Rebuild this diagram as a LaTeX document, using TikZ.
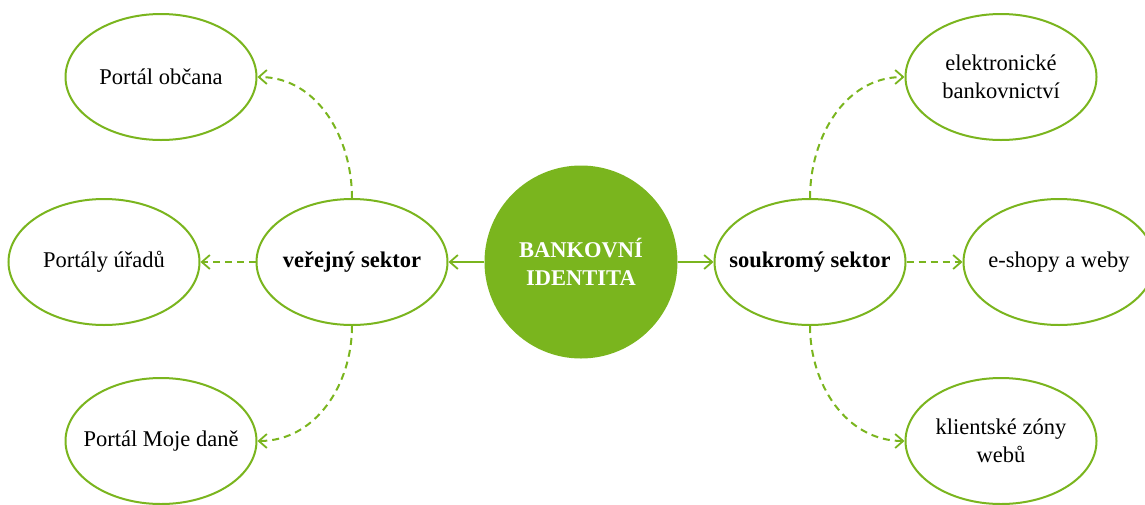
\documentclass[tikz,border=0pt]{standalone}
\usepackage{fontspec}
\setmainfont{Liberation Serif}
\usetikzlibrary{shapes.geometric,arrows.meta}
\definecolor{lime}{HTML}{7AB51E}
\tikzset{
  bubble/.style={ellipse, draw=lime, line width=2pt, fill=white, minimum width=191pt, minimum height=126pt, inner xsep=-40pt, inner ysep=0pt, align=center, font=\fontsize{22.5}{28}\selectfont},
  hub/.style={circle, fill=lime, minimum size=193pt, inner sep=0pt, align=center, text=white, font=\fontsize{22.5}{28}\selectfont\bfseries},
  solidlink/.style={draw=lime, line width=2pt, -{Straight Barb[length=8pt,width=14pt,line width=1.8pt]}},
  dashlink/.style={draw=lime, line width=2pt, dash pattern=on 7pt off 5pt, -{Straight Barb[length=8pt,width=14pt,line width=1.8pt]}}
}
\begin{document}
\begin{tikzpicture}[x=1pt,y=-1pt]
\useasboundingbox (0,0) rectangle (1145,504);
\node[hub] (c) at (581,262) {BANKOVNÍ\\IDENTITA};
\node[bubble] (v) at (352,262) {\textbf{veřejný sektor}};
\node[bubble] (s) at (810,262) {\textbf{soukromý sektor}};
\node[bubble] (po) at (161,77) {Portál občana};
\node[bubble] (pu) at (104,262) {Portály úřadů};
\node[bubble] (pm) at (161,441) {Portál Moje daně};
\node[bubble] (eb) at (1001,77) {elektronické\\bankovnictví};
\node[bubble] (es) at (1059,262) {e-shopy a weby};
\node[bubble] (kz) at (1001,441) {klientské zóny\\webů};
\draw[solidlink] (c) -- (v);
\draw[solidlink] (c) -- (s);
\draw[dashlink] (v.north) to[out=90,in=0] (po.east);
\draw[dashlink] (v.west) -- (pu.east);
\draw[dashlink] (v.south) to[out=-90,in=0] (pm.east);
\draw[dashlink] (s.north) to[out=90,in=180] (eb.west);
\draw[dashlink] (s.east) -- (es.west);
\draw[dashlink] (s.south) to[out=-90,in=180] (kz.west);
\end{tikzpicture}
\end{document}
